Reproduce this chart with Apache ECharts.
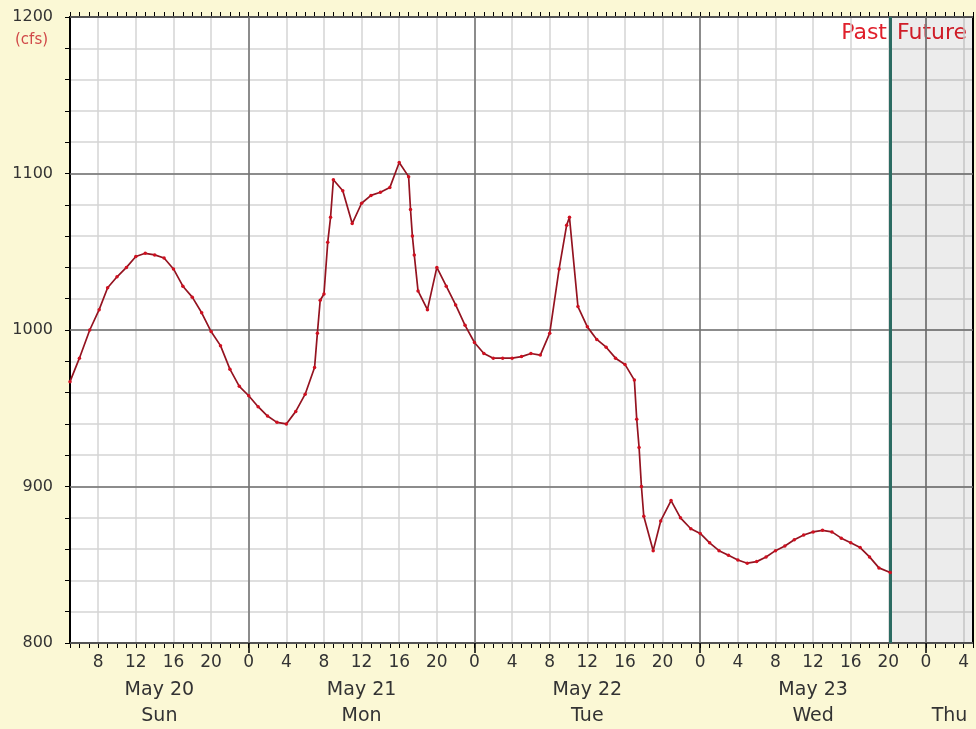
<!DOCTYPE html>
<html>
<head>
<meta charset="utf-8">
<title>Flow (cfs)</title>
<script src="https://cdn.jsdelivr.net/npm/echarts@6/dist/echarts.min.js"></script>
<style>
  html, body { margin: 0; padding: 0; background: #fbf8d5; }
  #chart { width: 976px; height: 729px; }
</style>
</head>
<body>
<div id="chart"></div>
<script>
// x = hours since May 20 00:00
const hours = [
  5, 6, 7.1, 8.1, 9, 10, 11, 12, 13, 14, 15, 16, 17, 18, 19, 20, 21, 22, 23, 24,
  25, 26, 27, 28, 29, 30, 31, 31.3, 31.6, 32, 32.4, 32.7, 33, 34, 35, 36, 37, 38, 39, 40,
  41, 41.2, 41.4, 41.6, 42, 43, 44, 45, 46, 47, 48, 49, 50, 51, 52, 53, 54, 55, 56, 57,
  57.8, 58.1, 59, 60, 61, 62, 63, 64, 65, 65.25, 65.5, 65.75, 66, 67, 67.8, 68.9, 69.9, 71, 72, 73,
  74, 75, 76, 77, 78, 79, 80, 81, 82, 83, 84, 85, 86, 87, 88, 89, 90, 91, 92.2
]
const flow = [
  967, 982, 1000, 1013, 1027, 1034, 1040, 1047, 1049, 1048, 1046, 1039, 1028, 1021, 1011, 999, 990, 975, 964, 958,
  951, 945, 941, 940, 948, 959, 976, 998, 1019, 1023, 1056, 1072, 1096, 1089, 1068, 1081, 1086, 1088, 1091, 1107,
  1098, 1077, 1060, 1048, 1025, 1013, 1040, 1028, 1016, 1003, 992, 985, 982, 982, 982, 983, 985, 984, 998, 1039,
  1067, 1072, 1015, 1002, 994, 989, 982, 978, 968, 943, 925, 900, 881, 859, 878, 891, 880, 873, 870, 864,
  859, 856, 853, 851, 852, 855, 859, 862, 866, 869, 871, 872, 871, 867, 864, 861, 855, 848, 845
]

const hourTicks = [8, 12, 16, 20, 24, 28, 32, 36, 40, 44, 48, 52, 56, 60, 64, 68, 72, 76, 80, 84, 88, 92, 96, 100]
const midnights = [24, 48, 72, 96]
const dayCenters = [14.5, 36, 60, 84, 98.5]
const dateLabels = ['May 20', 'May 21', 'May 22', 'May 23', '']
const dayLabels = ['Sun', 'Mon', 'Tue', 'Wed', 'Thu']
const nowHour = 92.2
const xMin = 5
const xMax = 101

const FONT = 'DejaVu Sans'
const chart = echarts.init(document.getElementById('chart'))

const option = {
  backgroundColor: '#fbf8d5',
  animation: false,
  grid: {
    left: 70, right: 1, top: 17, bottom: 85,
    show: true, backgroundColor: '#ffffff', borderWidth: 0
  },
  xAxis: [
    {
      // hourly ticks + hour labels
      type: 'value', position: 'bottom', min: xMin, max: xMax, interval: 1,
      axisLine: { lineStyle: { color: '#000', width: 2 } },
      axisTick: { length: 5, lineStyle: { color: '#000', width: 1 } },
      axisLabel: {
        margin: 11, fontFamily: FONT, fontSize: 17, color: '#333',
        formatter: v => (hourTicks.indexOf(v) >= 0 ? String(v % 24) : '')
      },
      splitLine: { show: false }
    },
    {
      // light 4-hour grid
      type: 'value', position: 'bottom', min: xMin, max: xMax,
      axisLine: { show: false },
      axisTick: { show: false, customValues: hourTicks },
      axisLabel: { show: false },
      splitLine: { show: true, lineStyle: { color: '#d4d4d4', width: 1.5 } }
    },
    {
      // midnight lines
      type: 'value', position: 'bottom', min: xMin, max: xMax, z: 1,
      axisLine: { show: false },
      axisTick: { show: true, length: 10, customValues: midnights, lineStyle: { color: '#000', width: 1.5 } },
      axisLabel: { show: false },
      splitLine: { show: true, lineStyle: { color: '#707070', width: 1.5 } }
    },
    {
      // top frame with hourly ticks
      type: 'value', position: 'top', min: xMin, max: xMax, interval: 1,
      axisLine: { lineStyle: { color: '#000', width: 2 } },
      axisTick: { length: 5, lineStyle: { color: '#000', width: 1 } },
      axisLabel: { show: false },
      splitLine: { show: false }
    },
    {
      // date / weekday labels
      type: 'value', position: 'bottom', min: xMin, max: xMax,
      axisLine: { show: false },
      axisTick: { show: false },
      axisLabel: {
        customValues: dayCenters, margin: 34,
        fontFamily: FONT, fontSize: 19, color: '#333', lineHeight: 26,
        formatter: v => {
          const i = dayCenters.indexOf(v)
          return dateLabels[i] + '\n' + dayLabels[i]
        }
      },
      splitLine: { show: false }
    }
  ],
  yAxis: [
    {
      type: 'value', min: 800, max: 1200, interval: 20,
      axisLine: { show: true, lineStyle: { color: '#000', width: 2 } },
      axisTick: { show: true, length: 5, lineStyle: { color: '#000', width: 1 } },
      axisLabel: {
        margin: 17, fontFamily: FONT, fontSize: 16, color: '#333',
        formatter: v => (v % 100 === 0 ? String(v) : '')
      },
      splitLine: { show: true, lineStyle: { color: '#d4d4d4', width: 1.5 } }
    },
    {
      type: 'value', min: 800, max: 1200, interval: 100, z: 1,
      axisLine: { show: false },
      axisTick: { show: false },
      axisLabel: { show: false },
      splitLine: { show: true, lineStyle: { color: '#707070', width: 1.5 } }
    },
    {
      type: 'value', position: 'right', min: 800, max: 1200, interval: 100,
      axisLine: { show: true, onZero: false, lineStyle: { color: '#000', width: 2 } },
      axisTick: { show: false },
      axisLabel: { show: false },
      splitLine: { show: false }
    }
  ],
  series: [
    {
      name: 'Flow',
      type: 'line',
      xAxisIndex: 0,
      yAxisIndex: 0,
      data: hours.map((h, i) => [h, flow[i]]),
      symbol: 'circle',
      symbolSize: 3.5,
      showSymbol: true,
      itemStyle: { color: '#d01020' },
      lineStyle: { color: '#941320', width: 1.7 },
      z: 5,
      markArea: {
        silent: true,
        itemStyle: { color: 'rgba(0,0,0,0.075)' },
        data: [[{ xAxis: nowHour }, { xAxis: xMax }]]
      },
      markLine: {
        silent: true,
        symbol: 'none',
        label: { show: false },
        lineStyle: { color: '#2b6b62', width: 3, type: 'solid' },
        data: [{ xAxis: nowHour }]
      }
    }
  ],
  graphic: [
    {
      type: 'text', left: 15, top: 33,
      style: { text: '(cfs)', fontFamily: FONT, fontSize: 15, fill: '#d04848' }
    },
    {
      type: 'text', right: 89, top: 22,
      style: { text: 'Past', fontFamily: FONT, fontSize: 22, fill: '#e0202c' }
    },
    {
      type: 'text', left: 897, top: 22,
      style: { text: 'Future', fontFamily: FONT, fontSize: 22, fill: '#e0202c' }
    }
  ]
}

chart.setOption(option)
window.addEventListener('resize', () => {
  chart.resize()
})
</script>
</body>
</html>
